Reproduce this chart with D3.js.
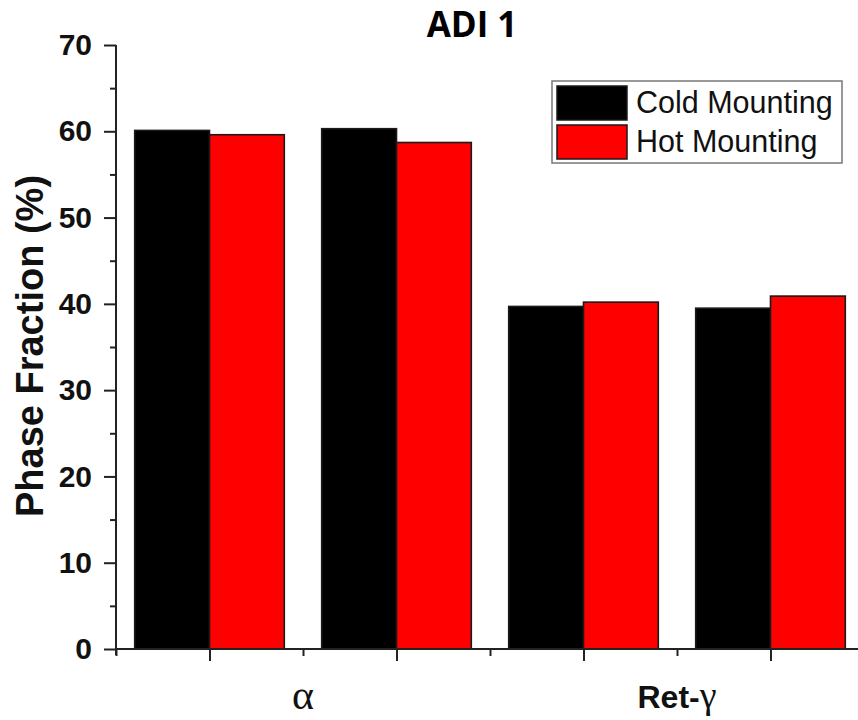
<!DOCTYPE html>
<html>
<head>
<meta charset="utf-8">
<script src="https://cdn.jsdelivr.net/npm/d3@7"></script>
<style>
  html, body { margin: 0; padding: 0; background: #fff; }
  svg { display: block; }
</style>
</head>
<body>
<svg id="chart" width="858" height="720"></svg>
<script>
// Phase fractions of ADI 1, two measurements per phase, cold vs hot mounting
const positions = [1, 2, 3, 4];
const coldMounting = [60.1, 60.3, 39.7, 39.5];
const hotMounting = [59.6, 58.7, 40.2, 40.9];
const phaseLabels = ["α", "Ret-γ"];
const phaseLabelPositions = [1.5, 3.5];
const yTicks = [0, 10, 20, 30, 40, 50, 60, 70];
const yMinorTicks = [5, 15, 25, 35, 45, 55, 65];
const seriesNames = ["Cold Mounting", "Hot Mounting"];
const seriesColors = ["#000000", "#ff0000"];

const svg = d3.select("#chart");

const x = d3.scaleLinear().domain([0.5, 4.5]).range([116, 864]);
const y = d3.scaleLinear().domain([0, 70]).range([649, 45]);
const barW = 0.4;

const axisColor = "#222";

// Bars
const bars = svg.append("g");
positions.forEach((p, i) => {
  [coldMounting[i], hotMounting[i]].forEach((v, s) => {
    const x0 = s === 0 ? p - barW : p;
    bars.append("rect")
      .attr("x", x(x0))
      .attr("y", y(v))
      .attr("width", x(x0 + barW) - x(x0))
      .attr("height", y(0) - y(v))
      .attr("fill", seriesColors[s])
      .attr("stroke", "#1a1a1a")
      .attr("stroke-width", 1.6);
  });
});

// Y axis
const yAxis = svg.append("g")
  .attr("transform", `translate(${x(0.5)},0)`)
  .call(d3.axisLeft(y).tickValues(yTicks).tickSize(12).tickPadding(12).tickFormat(d3.format("d")));
yAxis.append("g").call(d3.axisLeft(y).tickValues(yMinorTicks).tickSize(6).tickFormat(""));
yAxis.selectAll("path.domain").attr("d", `M0,${y(0) + 6}V${y(70)}`);
yAxis.selectAll("g g path.domain").remove();
yAxis.selectAll(".domain, line").attr("stroke", axisColor).attr("stroke-width", 2);
yAxis.selectAll("text")
  .attr("font-family", "'Liberation Sans', Arial, sans-serif")
  .attr("font-weight", "bold")
  .attr("font-size", 30)
  .attr("fill", "#111");

// X axis
const xAxis = svg.append("g")
  .attr("transform", `translate(0,${y(0)})`)
  .call(d3.axisBottom(x).tickValues(positions).tickSize(12).tickFormat(""));
xAxis.append("g").call(d3.axisBottom(x).tickValues([0.5, 1.5, 2.5, 3.5, 4.5]).tickSize(7).tickFormat(""));
xAxis.selectAll("g g path.domain").remove();
xAxis.selectAll("path.domain").attr("d", `M${x(0.5)},0H${x(4.5)}`);
xAxis.selectAll(".domain, line").attr("stroke", axisColor).attr("stroke-width", 2);

// Phase labels
const phaseText = svg.append("g");
phaseText.append("text")
  .attr("x", x(phaseLabelPositions[0]))
  .attr("y", 709)
  .attr("text-anchor", "middle")
  .attr("font-family", "'Liberation Serif', 'Times New Roman', serif")
  .attr("font-size", 42)
  .attr("fill", "#111")
  .text(phaseLabels[0]);
const ret = phaseText.append("text")
  .attr("x", x(phaseLabelPositions[1]))
  .attr("y", 708)
  .attr("text-anchor", "middle")
  .attr("fill", "#111");
const [retHead, retTail] = phaseLabels[1].split("-");
ret.append("tspan")
  .attr("font-family", "'Liberation Sans', Arial, sans-serif")
  .attr("font-weight", "bold")
  .attr("font-size", 32)
  .text(retHead + "-");
ret.append("tspan")
  .attr("font-family", "'Liberation Serif', 'Times New Roman', serif")
  .attr("font-size", 38)
  .text(retTail);

// Y axis title
svg.append("text")
  .attr("transform", "translate(43,346) rotate(-90)")
  .attr("text-anchor", "middle")
  .attr("font-family", "'Liberation Sans', Arial, sans-serif")
  .attr("font-weight", "bold")
  .attr("font-size", 38)
  .attr("fill", "#111")
  .text("Phase Fraction (%)");

// Title
svg.append("text")
  .attr("x", 472)
  .attr("y", 37)
  .attr("text-anchor", "middle")
  .attr("font-family", "'Open Sans', 'Liberation Sans', sans-serif")
  .attr("font-weight", "bold")
  .attr("font-size", 35)
  .attr("fill", "#000")
  .text("ADI 1");

// Legend
const legend = svg.append("g");
legend.append("rect")
  .attr("x", 552).attr("y", 81)
  .attr("width", 290).attr("height", 82)
  .attr("fill", "#fff")
  .attr("stroke", "#777")
  .attr("stroke-width", 1.5);
seriesNames.forEach((name, i) => {
  const top = 86 + i * 39;
  legend.append("rect")
    .attr("x", 557).attr("y", top)
    .attr("width", 70).attr("height", 34)
    .attr("fill", seriesColors[i])
    .attr("stroke", "#1a1a1a")
    .attr("stroke-width", 1.5);
  legend.append("text")
    .attr("x", 636).attr("y", top + 27)
    .attr("font-family", "'Liberation Sans', Arial, sans-serif")
    .attr("font-size", 30.5)
    .attr("fill", "#111")
    .text(name);
});
</script>
</body>
</html>
